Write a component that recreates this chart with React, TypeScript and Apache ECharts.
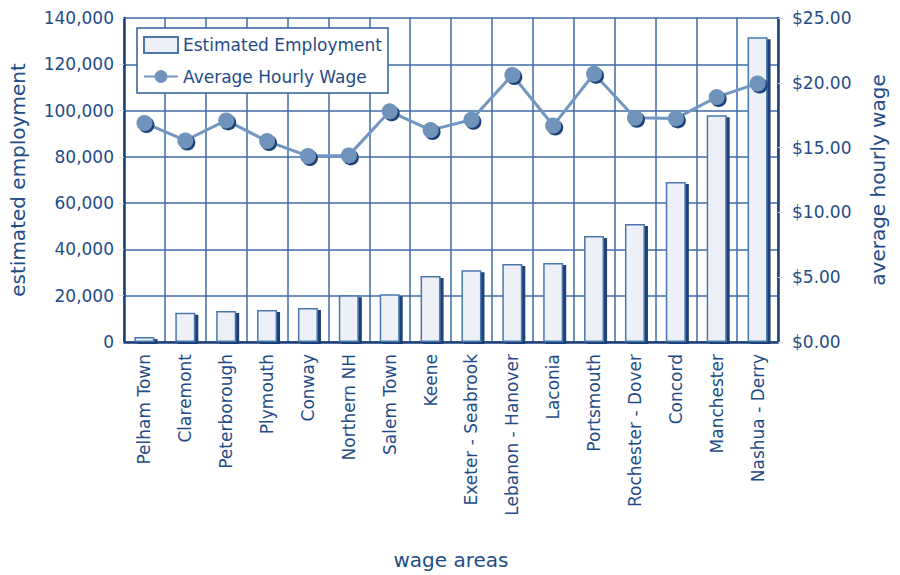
import React, { useEffect, useRef } from "react";
import * as echarts from "echarts";

const categories = [
  "Pelham Town", "Claremont", "Peterborough", "Plymouth", "Conway", "Northern NH",
  "Salem Town", "Keene", "Exeter - Seabrook", "Lebanon - Hanover", "Laconia",
  "Portsmouth", "Rochester - Dover", "Concord", "Manchester", "Nashua - Derry",
];
const employment = [
  2200, 12600, 13400, 13800, 14700, 20200, 20600, 28500, 31000, 33700, 34100,
  45800, 51000, 69100, 98000, 131700,
];
const wages = [
  16.9, 15.55, 17.1, 15.5, 14.35, 14.4, 17.8, 16.35, 17.15, 20.6, 16.7, 20.7,
  17.3, 17.25, 18.9, 19.95,
];

const FONT = "DejaVu Sans";
const TXT = "#1f4c87";

export default function App() {
  const ref = useRef<HTMLDivElement>(null);
  useEffect(() => {
    const chart = echarts.init(ref.current!, null, { renderer: "svg" });
    chart.setOption({
      animation: false,
      textStyle: { fontFamily: FONT },
      grid: { left: 120, right: 122, top: 18, bottom: 233, containLabel: false },
      legend: {
        left: 137,
        top: 28,
        orient: "vertical",
        backgroundColor: "#ffffff",
        borderColor: "#2f5f99",
        borderWidth: 1.5,
        borderRadius: 0,
        padding: [8, 6, 8, 6],
        itemGap: 14,
        itemWidth: 34,
        itemHeight: 16,
        textStyle: { fontFamily: FONT, fontSize: 17, color: TXT },
        data: [
          { name: "Estimated Employment", icon: "rect" },
          { name: "Average Hourly Wage" },
        ],
      },
      xAxis: {
        type: "category",
        data: categories,
        boundaryGap: true,
        axisLine: { show: true, lineStyle: { color: "#1c3f78", width: 2.5 } },
        axisTick: { show: false },
        splitLine: { show: true, interval: 0, lineStyle: { color: "#3d6ca6", width: 1.5 } },
        axisLabel: {
          interval: 0,
          rotate: 90,
          margin: 12,
          fontFamily: FONT,
          fontSize: 17,
          color: TXT,
        },
        name: "wage areas",
        nameLocation: "middle",
        nameGap: 208,
        nameTextStyle: { fontFamily: FONT, fontSize: 20, color: TXT },
      },
      yAxis: [
        {
          type: "value",
          min: 0,
          max: 140000,
          interval: 20000,
          position: "left",
          axisLine: { show: true, lineStyle: { color: "#1c3f78", width: 2.5 } },
          axisTick: { show: true, length: 5, lineStyle: { color: "#d5dbe6" } },
          splitLine: { show: true, lineStyle: { color: "#3d6ca6", width: 1.5 } },
          axisLabel: {
            fontFamily: FONT,
            fontSize: 17,
            color: TXT,
            margin: 10,
            formatter: (v: number) => v.toLocaleString("en-US"),
          },
          name: "estimated employment",
          nameLocation: "middle",
          nameGap: 96,
          nameTextStyle: { fontFamily: FONT, fontSize: 20, color: TXT },
        },
        {
          type: "value",
          min: 0,
          max: 25,
          interval: 5,
          position: "right",
          axisLine: { show: true, lineStyle: { color: "#1c3f78", width: 2.5 } },
          axisTick: { show: true, length: 5, lineStyle: { color: "#d5dbe6" } },
          splitLine: { show: false },
          axisLabel: {
            fontFamily: FONT,
            fontSize: 17,
            color: TXT,
            margin: 14,
            formatter: (v: number) => "$" + v.toFixed(2),
          },
          name: "average hourly wage",
          nameLocation: "middle",
          nameGap: 90,
          nameRotate: 90,
          nameTextStyle: { fontFamily: FONT, fontSize: 20, color: TXT },
        },
      ],
      series: [
        {
          name: "Estimated Employment",
          type: "bar",
          yAxisIndex: 0,
          data: employment,
          barWidth: 20,
          itemStyle: {
            color: "#eef0f7",
            borderColor: "#4a78ad",
            borderWidth: 1.5,
            shadowColor: "#1c3f78",
            shadowOffsetX: 3,
            shadowOffsetY: 2,
            shadowBlur: 0,
          },
        },
        {
          name: "Average Hourly Wage",
          type: "line",
          yAxisIndex: 1,
          data: wages,
          symbol: "circle",
          symbolSize: 16,
          lineStyle: { color: "#7196c0", width: 3 },
          itemStyle: {
            color: "#6f93bb",
            shadowColor: "#1c3f78",
            shadowOffsetX: 2,
            shadowOffsetY: 2,
            shadowBlur: 0,
          },
        },
      ],
    });
    return () => chart.dispose();
  }, []);
  return (
    <div
      ref={ref}
      style={{ position: "absolute", left: 0, top: 0, width: 900, height: 575 }}
    />
  );
}
